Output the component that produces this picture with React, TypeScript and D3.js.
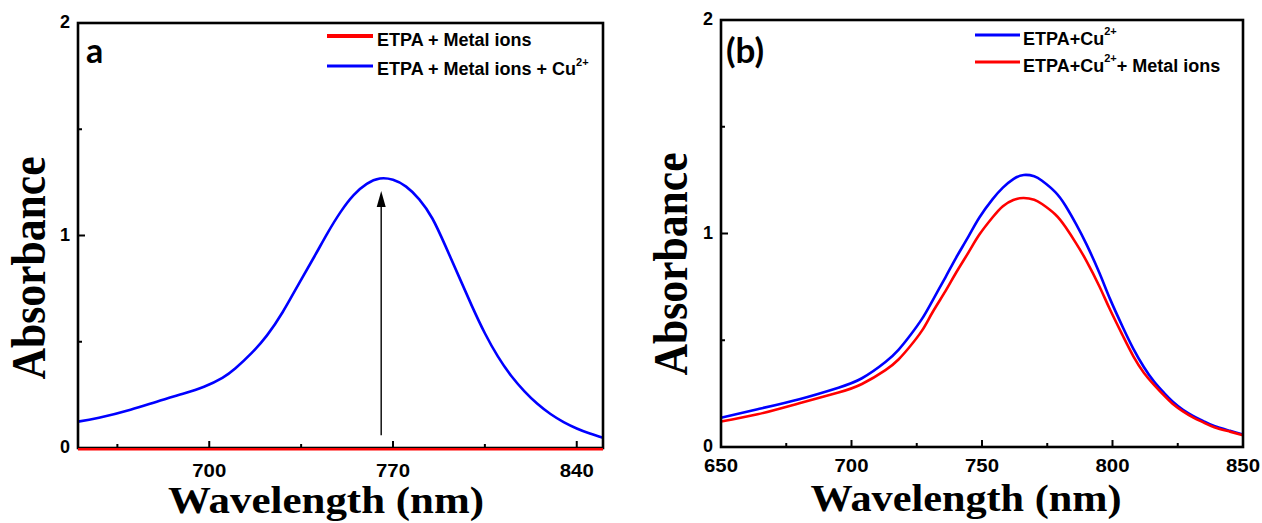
import React from "react";
import * as d3 from "d3";

// ---------- Data ----------
// Panel (a)
const wlA = [650, 658, 670, 680, 690, 698, 705, 710, 716, 722, 728, 734, 740, 745, 750, 755, 760, 765, 770, 775, 780, 785, 790, 795, 800, 805, 810, 815, 820, 825, 830, 835, 840, 845, 850];
const etpaMetalCu = [0.124, 0.142, 0.18, 0.218, 0.255, 0.288, 0.33, 0.375, 0.445, 0.53, 0.64, 0.77, 0.9, 1.01, 1.11, 1.19, 1.243, 1.268, 1.262, 1.23, 1.17, 1.08, 0.95, 0.81, 0.67, 0.54, 0.43, 0.34, 0.268, 0.208, 0.16, 0.122, 0.092, 0.068, 0.048];
const wlAflat = [650, 700, 750, 800, 850];
const etpaMetal = [-0.006, -0.006, -0.006, -0.006, -0.006];
const arrowA = { wl: 765.5, from: 0.06, to: 1.21 };

// Panel (b)
const wlB = [650, 664, 680, 695, 704, 713, 718, 722, 727, 731, 736, 740, 745, 749, 754, 758, 762, 766, 770, 773, 778, 782, 786, 790, 795, 799, 804, 808, 812, 816, 820, 823, 827, 831, 835, 839, 845, 850];
const etpaCu = [0.137, 0.177, 0.224, 0.278, 0.322, 0.398, 0.455, 0.515, 0.6, 0.685, 0.795, 0.885, 0.99, 1.075, 1.16, 1.215, 1.255, 1.274, 1.268, 1.247, 1.195, 1.13, 1.045, 0.95, 0.815, 0.695, 0.56, 0.46, 0.375, 0.305, 0.25, 0.213, 0.174, 0.145, 0.12, 0.098, 0.076, 0.058];
const etpaCuMetal = [0.119, 0.153, 0.205, 0.255, 0.295, 0.36, 0.41, 0.465, 0.545, 0.63, 0.73, 0.815, 0.915, 0.995, 1.075, 1.128, 1.157, 1.166, 1.158, 1.138, 1.09, 1.03, 0.955, 0.872, 0.752, 0.645, 0.52, 0.425, 0.348, 0.29, 0.238, 0.203, 0.167, 0.138, 0.114, 0.093, 0.072, 0.055];

// Ticks
const yMajorTicks = [0, 1, 2];
const yMinorTicks = [0.5, 1.5];
const xMajorA = [700, 770, 840];
const xMinorA = [665, 735, 805];
const xMajorB = [650, 700, 750, 800, 850];
const xMinorB = [675, 725, 775, 825];

const SANS = "'Liberation Sans', Arial, sans-serif";
const SERIF = "'Liberation Serif', 'Times New Roman', serif";

type Series = { x: number[]; y: number[]; color: string; width: number };

function Panel(props: {
  left: number; right: number; top: number; bottom: number;
  xMajor: number[]; xMinor: number[];
  series: Series[];
  xLabelBaseline: number;
  yTitleX: number; yTitleY: number;
  xTitleX: number; xTitleY: number; xTitleLen: number;
  children?: React.ReactNode;
}) {
  const x = d3.scaleLinear().domain([650, 850]).range([props.left, props.right]);
  const y = d3.scaleLinear().domain([0, 2]).range([props.bottom, props.top]);
  const line = d3.line<[number, number]>()
    .x((d) => x(d[0]))
    .y((d) => y(d[1]))
    .curve(d3.curveNatural);
  return (
    <g>
      {props.series.map((s, i) => (
        <path key={i} d={line(s.x.map((v, j) => [v, s.y[j]] as [number, number])) || ""}
          fill="none" stroke={s.color} strokeWidth={s.width} strokeLinejoin="round" />
      ))}
      <rect x={props.left} y={props.top} width={props.right - props.left} height={props.bottom - props.top}
        fill="none" stroke="#000" strokeWidth={2.6} />
      {props.xMajor.map((t) => (
        <line key={"xM" + t} x1={x(t)} x2={x(t)} y1={props.bottom} y2={props.bottom - 7} stroke="#000" strokeWidth={2} />
      ))}
      {props.xMinor.map((t) => (
        <line key={"xm" + t} x1={x(t)} x2={x(t)} y1={props.bottom} y2={props.bottom - 4} stroke="#000" strokeWidth={2} />
      ))}
      {yMajorTicks.map((t) => (
        <line key={"yM" + t} x1={props.left} x2={props.left + 7} y1={y(t)} y2={y(t)} stroke="#000" strokeWidth={2} />
      ))}
      {yMinorTicks.map((t) => (
        <line key={"ym" + t} x1={props.left} x2={props.left + 4} y1={y(t)} y2={y(t)} stroke="#000" strokeWidth={2} />
      ))}
      {props.xMajor.map((t) => (
        <text key={"xl" + t} x={x(t)} y={props.xLabelBaseline} textAnchor="middle"
          fontFamily={SANS} fontWeight={700} fontSize={19} textLength={34} lengthAdjust="spacingAndGlyphs">{t}</text>
      ))}
      {yMajorTicks.map((t) => (
        <text key={"yl" + t} x={props.left - 8} y={y(t) + 5} textAnchor="end"
          fontFamily={SANS} fontWeight={700} fontSize={18}>{t}</text>
      ))}
      <text transform={`translate(${props.yTitleX},${props.yTitleY}) rotate(-90)`} textAnchor="middle"
        fontFamily={SERIF} fontWeight={700} fontSize={48} textLength={223} lengthAdjust="spacingAndGlyphs">Absorbance</text>
      <text x={props.xTitleX} y={props.xTitleY} textAnchor="middle"
        fontFamily={SERIF} fontWeight={700} fontSize={38} textLength={props.xTitleLen} lengthAdjust="spacingAndGlyphs">Wavelength (nm)</text>
      {props.children}
    </g>
  );
}

export default function App() {
  const xA = d3.scaleLinear().domain([650, 850]).range([78, 603]);
  const yA = d3.scaleLinear().domain([0, 2]).range([448, 23]);
  const ax = xA(arrowA.wl);
  const ay0 = yA(arrowA.from);
  const ay1 = yA(arrowA.to);
  const flat = d3.line<number>().x((d) => xA(d)).y((_, i) => yA(etpaMetal[i]));
  return (
    <svg width={1262} height={523} style={{ position: "absolute", left: 0, top: 0, background: "#fff" }}>
      <rect x={0} y={0} width={1262} height={523} fill="#fff" />
      <Panel left={78} right={603} top={23} bottom={448} xMajor={xMajorA} xMinor={xMinorA}
        series={[
          { x: wlA, y: etpaMetalCu, color: "#0000ff", width: 2.6 },
        ]}
        xLabelBaseline={477} yTitleX={45} yTitleY={268} xTitleX={326} xTitleY={513} xTitleLen={316}>
        <path d={flat(wlAflat) || ""} stroke="#ff0000" strokeWidth={2.6} fill="none" />
        <line x1={ax} x2={ax} y1={ay0} y2={ay1 + 14} stroke="#000" strokeWidth={1.4} />
        <path d={`M${ax},${ay1} L${ax - 4.5},${ay1 + 16} L${ax + 4.5},${ay1 + 16} Z`} fill="#000" />
        <text x={86} y={63} fontFamily="Lato, 'Open Sans', sans-serif" fontWeight={700} fontSize={34}>a</text>
        {/* legend */}
        <line x1={327} x2={373} y1={36} y2={36} stroke="#ff0000" strokeWidth={4} />
        <text x={377} y={46} fontFamily={SANS} fontWeight={700} fontSize={18}>ETPA + Metal ions</text>
        <line x1={327} x2={373} y1={66} y2={66} stroke="#0000ff" strokeWidth={3} />
        <text x={377} y={75} fontFamily={SANS} fontWeight={700} fontSize={18}>
          ETPA + Metal ions + Cu<tspan fontSize={11} dy={-9}>2+</tspan>
        </text>
      </Panel>
      <Panel left={721} right={1243} top={20} bottom={447} xMajor={xMajorB} xMinor={xMinorB}
        series={[
          { x: wlB, y: etpaCu, color: "#0000ff", width: 2.6 },
          { x: wlB, y: etpaCuMetal, color: "#ff0000", width: 2.6 },
        ]}
        xLabelBaseline={472} yTitleX={687} yTitleY={264} xTitleX={966} xTitleY={511} xTitleLen={311}>
        <text x={726} y={63} fontFamily="Lato, 'Open Sans', sans-serif" fontWeight={700} fontSize={35}>(b)</text>
        <line x1={975} x2={1020} y1={35} y2={35} stroke="#0000ff" strokeWidth={3} />
        <text x={1023} y={45} fontFamily={SANS} fontWeight={700} fontSize={18}>
          ETPA+Cu<tspan fontSize={11} dy={-10}>2+</tspan>
        </text>
        <line x1={975} x2={1020} y1={62} y2={62} stroke="#ff0000" strokeWidth={3} />
        <text x={1023} y={72} fontFamily={SANS} fontWeight={700} fontSize={18}>
          ETPA+Cu<tspan fontSize={11} dy={-10}>2+</tspan><tspan dy={10}>+ Metal ions</tspan>
        </text>
      </Panel>
    </svg>
  );
}
